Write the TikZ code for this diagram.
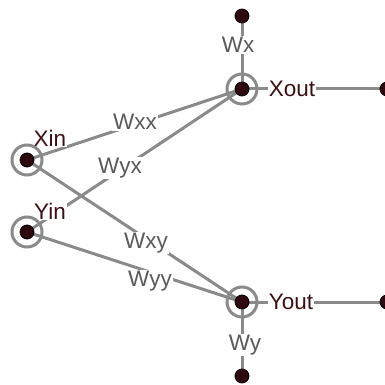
\documentclass[tikz,border=0pt]{standalone}
\usepackage{fontspec}
\setmainfont{Liberation Sans}
\definecolor{dotc}{HTML}{2E0A0E}
\definecolor{linec}{HTML}{8A8A8A}
\definecolor{wlab}{HTML}{5A5A5A}
\definecolor{nlab}{HTML}{3A1015}
\tikzset{
  dotnode/.style={circle,fill=dotc,draw=black,line width=0.8pt,minimum size=14pt,inner sep=0pt},
  ringnode/.style={circle,draw=linec,line width=3pt,minimum size=30pt,inner sep=0pt},
  conn/.style={draw=linec,line width=3pt},
  wlabel/.style={fill=white,text=wlab,inner sep=1pt,font=\fontsize{22.5}{24}\selectfont},
  nlabel/.style={fill=white,text=nlab,inner sep=1pt,font=\fontsize{22.5}{24}\selectfont},
}
\begin{document}
\begin{tikzpicture}[x=1pt,y=-1pt]
\useasboundingbox (0,0) rectangle (385,385);
% positions
\coordinate (xin) at (27,160);
\coordinate (yin) at (27,232);
\coordinate (xout) at (242,89);
\coordinate (yout) at (242,302);
\coordinate (top) at (242,16);
\coordinate (bot) at (242,376);
\coordinate (xr) at (387,89);
\coordinate (yr) at (387,302);
% connectors
\draw[conn] (xin) -- (xout);
\draw[conn] (yin) -- (xout);
\draw[conn] (xin) -- (yout);
\draw[conn] (yin) -- (yout);
\draw[conn] (top) -- (xout);
\draw[conn] (bot) -- (yout);
\draw[conn] (xout) -- (xr);
\draw[conn] (yout) -- (yr);
% labels
\node[wlabel] (lwxx) at (135,122) {Wxx};
\node[wlabel] (lwyx) at (120,168) {Wyx};
\node[wlabel] (lwxy) at (146,243) {Wxy};
\node[wlabel] (lwyy) at (150,281) {Wyy};
\node[wlabel] (lwx) at (238,45) {Wx};
\node[wlabel] (lwy) at (245,345) {Wy};
\node[nlabel] (lxin) at (50,138) {Xin};
\node[nlabel] (lyin) at (50,211) {Yin};
\node[nlabel] (lxout) at (292,89) {Xout};
\node[nlabel] (lyout) at (291,302) {Yout};
% rings and dots
\node[ringnode] (rxin) at (xin) {};
\node[ringnode] (ryin) at (yin) {};
\node[ringnode] (rxout) at (xout) {};
\node[ringnode] (ryout) at (yout) {};
\node[dotnode] (dxin) at (xin) {};
\node[dotnode] (dyin) at (yin) {};
\node[dotnode] (dxout) at (xout) {};
\node[dotnode] (dyout) at (yout) {};
\node[dotnode] (dtop) at (top) {};
\node[dotnode] (dbot) at (bot) {};
\node[dotnode] (dxr) at (xr) {};
\node[dotnode] (dyr) at (yr) {};
\end{tikzpicture}
\end{document}
